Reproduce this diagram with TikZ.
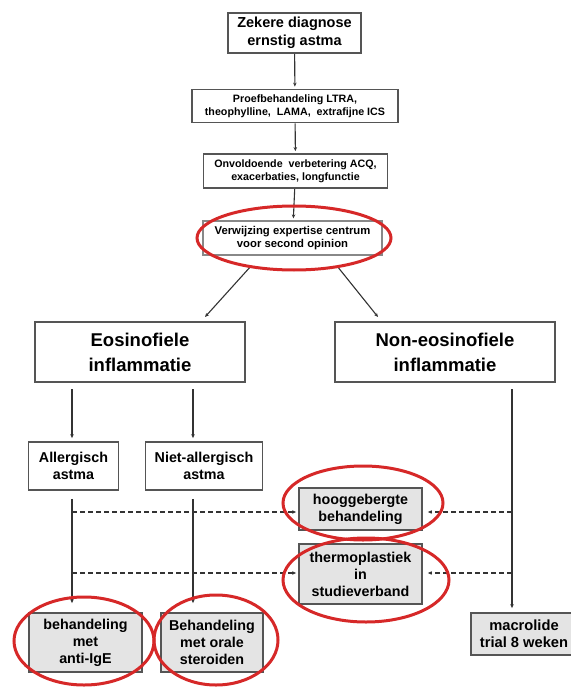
\documentclass[tikz,border=0pt]{standalone}
\usepackage{fontspec}
\setmainfont{Liberation Sans}
\usetikzlibrary{arrows.meta,shapes.geometric}
\definecolor{boxline}{RGB}{85,85,85}
\definecolor{boxfill}{RGB}{228,228,228}
\definecolor{ringred}{RGB}{214,40,40}
\tikzset{
  box/.style={draw=boxline, line width=1.8pt, fill=white, align=center, inner sep=0pt, text=black},
  graybox/.style={box, fill=boxfill},
  smalltxt/.style={font=\fontsize{10.7}{13}\selectfont\bfseries},
  midtxt/.style={font=\fontsize{14.3}{17}\selectfont\bfseries},
  bigtxt/.style={font=\fontsize{18.5}{25}\selectfont\bfseries},
  arr/.style={draw=black!80, line width=1.1pt, -{Stealth[length=4pt,width=3.5pt]}},
  dasharr/.style={arr, dashed, dash pattern=on 5pt off 3pt},
  ring/.style={draw=ringred, line width=3pt, ellipse, inner sep=0pt},
}
\begin{document}
\begin{tikzpicture}[x=1pt,y=-1pt]
\useasboundingbox (0,0) rectangle (570,687);
% top chain
\node[box, minimum width=133pt, minimum height=40pt, font=\fontsize{14.5}{17.5}\selectfont\bfseries] (b1) at (294.5,33) {Zekere diagnose\\ernstig astma};
\node[box, smalltxt, minimum width=206pt, minimum height=33pt] (b2) at (295,106) {Proefbehandeling LTRA,\\theophylline,\ \ LAMA,\ \ extrafijne ICS};
\node[box, smalltxt, minimum width=184pt, minimum height=34pt] (b3) at (295.5,171) {Onvoldoende\ \ verbetering ACQ,\\exacerbaties, longfunctie};
\node[box, font=\fontsize{11.3}{13.5}\selectfont\bfseries, draw=boxline!70, line width=1.2pt, minimum width=179pt, minimum height=34pt] (b4) at (292.5,238) {Verwijzing expertise centrum\\voor second opinion};
% inflammation boxes
\node[box, bigtxt, minimum width=210pt, minimum height=60pt] (eos) at (140,352) {Eosinofiele\\inflammatie};
\node[box, bigtxt, minimum width=220pt, minimum height=60pt] (non) at (445,352) {Non-eosinofiele\\inflammatie};
% asthma types
\node[box, midtxt, minimum width=90pt, minimum height=48pt] (all) at (73.5,466) {Allergisch\\astma};
\node[box, midtxt, minimum width=117pt, minimum height=48pt] (niet) at (204,466) {Niet-allergisch\\astma};
% treatments
\node[graybox, midtxt, minimum width=123pt, minimum height=42pt] (hoog) at (360.5,509) {hooggebergte\\behandeling};
\node[graybox, midtxt, minimum width=123pt, minimum height=60pt] (thermo) at (360.5,574) {thermoplastiek\\in\\studieverband};
\node[graybox, midtxt, minimum width=113pt, minimum height=59pt] (ige) at (85.5,642.5) {behandeling\\met\\anti-IgE};
\node[graybox, midtxt, minimum width=102pt, minimum height=59pt] (orale) at (212,642.5) {Behandeling\\met orale\\steroiden};
\node[graybox, font=\fontsize{14.7}{17}\selectfont\bfseries, minimum width=106pt, minimum height=42pt] (macro) at (524,634) {macrolide\\trial 8 weken};
% connectors
\draw[arr, shorten >=2pt] (b1) -- (b2);
\draw[arr, shorten >=2pt] (b2) -- (b3);
\draw[arr, shorten >=2pt] (b3) -- (b4);
\coordinate (dl) at (205,317);
\coordinate (dr) at (378,317);
\draw[arr] ([xshift=-42pt,yshift=-11pt]b4.south) -- (dl);
\draw[arr] ([xshift=45pt,yshift=-11pt]b4.south) -- (dr);
\coordinate (ea) at (72,382);
\coordinate (eb) at (193,382);
\draw[arr, shorten <=7pt, shorten >=3pt] (ea) -- (ea |- all.north);
\draw[arr, shorten <=7pt, shorten >=3pt] (eb) -- (eb |- niet.north);
\draw[arr, shorten <=8pt, shorten >=9pt] (ea |- all.south) -- (ea |- ige.north);
\draw[arr, shorten <=8pt, shorten >=9pt] (eb |- niet.south) -- (eb |- orale.north);
\coordinate (nr) at (512,382);
\draw[arr, shorten <=7pt, shorten >=4pt] (nr) -- (nr |- macro.north);
\coordinate (h1) at (72,512);
\coordinate (h2) at (72,573);
\coordinate (h3) at (512,512);
\coordinate (h4) at (512,573);
\draw[dasharr, shorten >=2pt] (h1) -- (h1 -| hoog.west);
\draw[dasharr, shorten >=5pt] (h3) -- (h3 -| hoog.east);
\draw[dasharr, shorten >=2pt] (h2) -- (h2 -| thermo.west);
\draw[dasharr, shorten >=5pt] (h4) -- (h4 -| thermo.east);
% red rings
\node[ring, minimum width=194pt, minimum height=64pt] (r1) at (294,238) {};
\node[ring, minimum width=160pt, minimum height=74pt] (r2) at (363,503) {};
\node[ring, minimum width=166pt, minimum height=84pt] (r3) at (366,580) {};
\node[ring, minimum width=140pt, minimum height=88pt] (r4) at (84,641) {};
\node[ring, minimum width=124pt, minimum height=90pt] (r5) at (216,640) {};
\end{tikzpicture}
\end{document}
